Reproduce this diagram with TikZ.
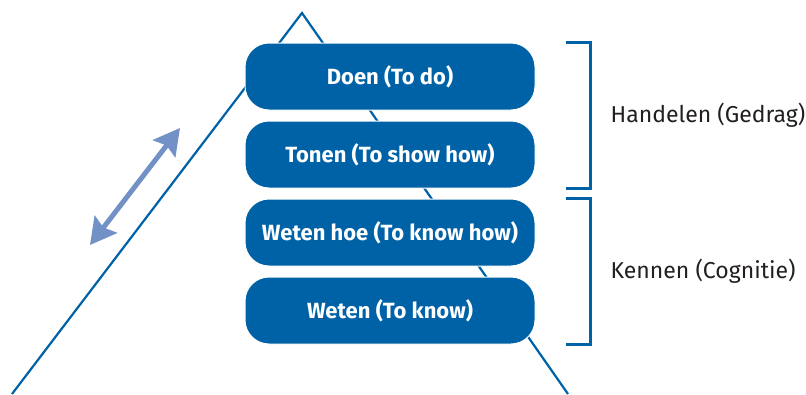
\documentclass[tikz,border=0pt]{standalone}
\usepackage{fontspec}
\setmainfont{Fira Sans}
\usetikzlibrary{positioning,arrows.meta,calc}
\definecolor{boxblue}{HTML}{0062A6}
\definecolor{arrowblue}{HTML}{7291C6}
\definecolor{labelgray}{HTML}{231F20}
\tikzset{
  level/.style={fill=boxblue, draw=white, line width=1pt, rounded corners=24pt,
    minimum width=290pt, minimum height=67pt, text=white, font=\fontsize{22}{26}\selectfont\bfseries},
  bracket/.style={draw=boxblue, line width=2.2pt},
  side/.style={anchor=west, inner sep=0pt, text=labelgray, font=\fontsize{23}{27}\selectfont}
}
\begin{document}
\begin{tikzpicture}[x=1pt, y=-1pt, node distance=10pt]
  \useasboundingbox (0,0) rectangle (806,394);
  \coordinate (apex) at (302,13);
  \coordinate (base l) at (12,394);
  \coordinate (base r) at (568,394);
  \draw[boxblue, line width=2.2pt] (base l) -- (apex) -- (base r);
  \coordinate (arr a) at (90,245);
  \coordinate (arr b) at (180,128);
  \draw[arrowblue, line width=5pt, {Stealth[length=26pt,width=28pt,inset=4pt]}-{Stealth[length=26pt,width=28pt,inset=4pt]}] (arr a) -- (arr b);
  \node[level] (doen) at (390,76.5) {Doen (To do)};
  \node[level, below=of doen] (tonen) {Tonen (To show how)};
  \node[level, below=of tonen] (wetenhoe) {Weten hoe (To know how)};
  \node[level, below=of wetenhoe] (weten) {Weten (To know)};
  \draw[bracket] ([xshift=30pt]doen.north east) -| ([xshift=55pt]tonen.south east) -- ([xshift=30pt]tonen.south east);
  \draw[bracket] ([xshift=30pt]wetenhoe.north east) -| ([xshift=55pt]weten.south east) -- ([xshift=30pt]weten.south east);
  \node[side] (handelen) at ([xshift=75pt]$(doen.north east)!0.5!(tonen.south east)$) {Handelen (Gedrag)};
  \node[side] (kennen) at ([xshift=75pt]$(wetenhoe.north east)!0.5!(weten.south east)$) {Kennen (Cognitie)};
\end{tikzpicture}
\end{document}
